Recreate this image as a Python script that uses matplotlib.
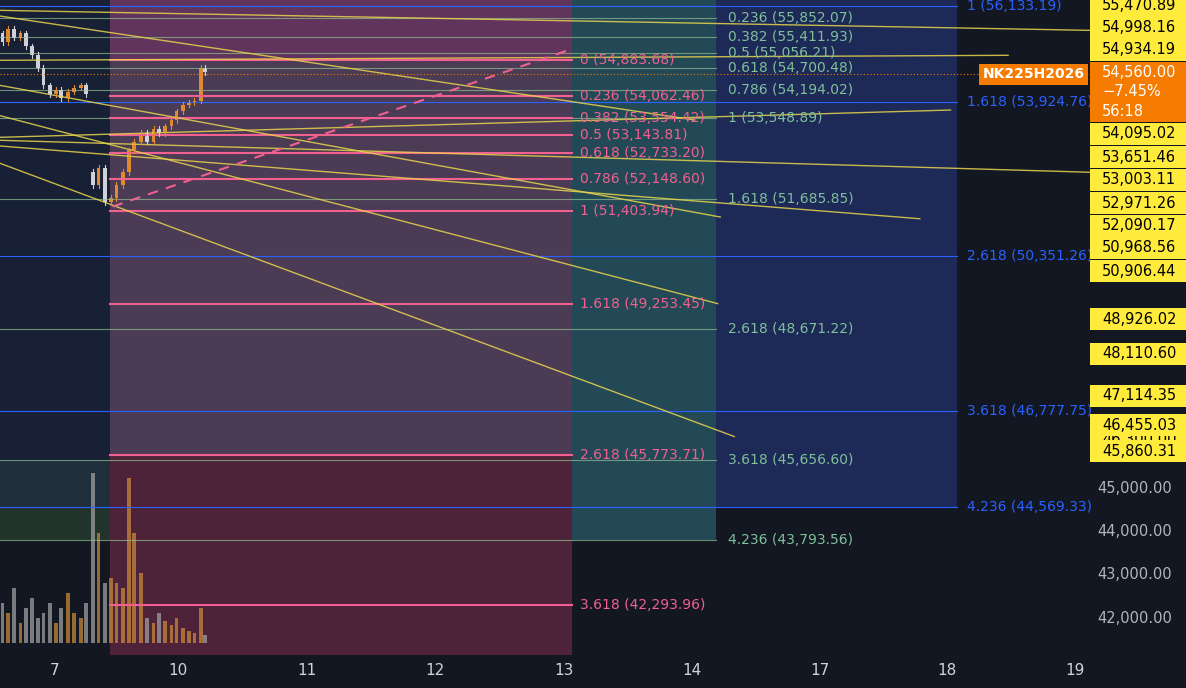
import matplotlib
matplotlib.use("Agg")
import matplotlib.pyplot as plt
import matplotlib.transforms as mtrans
import numpy as np

BG = "#131722"
day_labels = ["7", "10", "11", "12", "13", "14", "17", "18", "19"]
day_pos = [0, 0.96, 1.97, 2.97, 3.98, 4.98, 5.98, 6.97, 7.97]

times = [-0.41,-0.37,-0.32,-0.27,-0.23,-0.18,-0.13,-0.09,-0.04,0.01,0.05,0.10,0.15,0.20,0.24,
         0.30,0.34,0.39,0.44,0.48,0.53,0.58,0.62,0.67,0.72,0.77,0.81,0.86,0.91,0.95,1.00,1.05,1.09,1.14,1.17]
opens = [55500,55300,55600,55400,55500,55200,55000,54700,54300,54100,54200,54000,54150,54250,54300,
         52300,52000,52400,51600,51700,52000,52300,52800,53000,53200,53000,53300,53200,53350,53500,53700,53850,53900,53950,54700]
closes = [55300,55600,55400,55500,55200,55000,54700,54300,54100,54200,54000,54150,54250,54300,54100,
          52000,52400,51600,51700,52000,52300,52800,53000,53200,53000,53300,53200,53350,53500,53700,53850,53900,53950,54700,54600]
volumes = [40,30,55,20,35,45,25,30,40,20,35,50,30,25,40,
           170,110,60,65,60,55,165,110,70,25,20,30,22,18,25,15,12,10,35,8]

pink_ratios = ["0","0.236","0.382","0.5","0.618","0.786","1","1.618","2.618","3.618"]
pink_levels = [54883.68,54062.46,53554.42,53143.81,52733.20,52148.60,51403.94,49253.45,45773.71,42293.96]
green_ratios = ["0.236","0.382","0.5","0.618","0.786","1","1.618","2.618","3.618","4.236"]
green_levels = [55852.07,55411.93,55056.21,54700.48,54194.02,53548.89,51685.85,48671.22,45656.60,43793.56]
blue_ratios = ["1","1.618","2.618","3.618","4.236"]
blue_levels = [56133.19,53924.76,50351.26,46777.75,44569.33]

right_labels = [46300.00,55470.89,54998.16,54934.19,54095.02,53651.46,53003.11,52971.26,52090.17,50968.56,50906.44,
                48926.02,48110.60,47114.35,46455.03,45860.31]
# pixel centres of the stacked price-scale labels (layout only)
label_centres_px = [440,6,28,50,134,157,180,203,226,248,271,319,354,396,425,451]
axis_ticks = [45000,44000,43000,42000]
last_price = 54560.00

trend_lines = [(-0.43,56032,8.09,55570),(-0.43,54878,7.45,54994),(-0.43,53032,8.09,52293),
               (-0.43,52900,6.76,51220),(-0.43,54300,5.20,51260),(-0.43,53600,5.18,49260),
               (-0.43,52500,5.31,46190),(-0.43,53100,7.0,53730),(-0.43,55900,5.0,53500)]

fig = plt.figure(figsize=(11.86, 6.88), dpi=100, facecolor=BG)
ax = fig.add_axes([0, 33/688, 1090/1186, 655/688])
ax.set_facecolor(BG)
x0, x1 = -0.43, 8.09
y0, y1 = 41146, 56271
ax.set_xlim(x0, x1); ax.set_ylim(y0, y1)

ax.fill_between([0.43, 4.04], pink_levels[0], y1, color="#a04c8c", alpha=0.55, lw=0)
ax.fill_between([0.43, 4.04], pink_levels[8], pink_levels[0], color="#7a5a80", alpha=0.55, lw=0)
ax.fill_between([0.43, 4.04], y0, pink_levels[8], color="#8a3050", alpha=0.5, lw=0)
ax.fill_between([4.04, 5.17], green_levels[9], y1, color="#2a5a68", alpha=0.75, lw=0)
ax.fill_between([x0, 0.43], green_levels[9], green_levels[8], color="#3d6a3a", alpha=0.35, lw=0)
ax.fill_between([5.17, 7.05], blue_levels[4], y1, color="#1f2c5e", alpha=0.9, lw=0)
ax.fill_between([x0, 0.43], blue_levels[4], y1, color="#1e2a4a", alpha=0.5, lw=0)

for r, l in zip(blue_ratios, blue_levels):
    ax.plot([x0, 7.05], [l, l], color="#2962ff", lw=0.8)
    ax.text(7.13, l, f"{r} ({l:,.2f})", color="#2962ff", fontsize=10, va="center")
for r, l in zip(green_ratios, green_levels):
    ax.plot([x0, 5.17], [l, l], color="#8fbf8f", lw=0.8, alpha=0.7)
    ax.text(5.26, l, f"{r} ({l:,.2f})", color="#7fbf9a", fontsize=10, va="center")
for r, l in zip(pink_ratios, pink_levels):
    ax.plot([0.43, 4.04], [l, l], color="#f06090", lw=1.5)
    ax.text(4.1, l, f"{r} ({l:,.2f})", color="#f06090", fontsize=10, va="center")

for t0, p0, t1, p1 in trend_lines:
    ax.plot([t0, t1], [p0, p1], color="#e8d44d", lw=1.0, alpha=0.85)
ax.plot([0.45, 4.0], [51500, 55100], color="#f06090", lw=1.5, ls=(0, (5, 4)))
ax.axhline(last_price, color="#f57c00", lw=0.8, ls=(0, (1, 2)))

vt = mtrans.blended_transform_factory(ax.transData, ax.transAxes)
vmax = max(volumes)
for t, v, o, c in zip(times, volumes, opens, closes):
    col = "#c8873a" if c >= o else "#9e9e9e"
    ax.bar(t, v / vmax * 0.26, width=0.03, bottom=0.018, color=col, alpha=0.75, transform=vt)
for t, o, c in zip(times, opens, closes):
    col = "#e08a30" if c >= o else "#d0d0d8"
    hi, lo = max(o, c) + 60, min(o, c) - 60
    ax.plot([t, t], [lo, hi], color=col, lw=0.8)
    ax.bar(t, abs(c - o) or 20, bottom=min(o, c), width=0.03, color=col)

ax.set_xticks(day_pos)
ax.set_xticklabels(day_labels)
ax.set_yticks([])
ax.tick_params(axis="x", colors="#d1d4dc", labelsize=11, length=0, pad=6)
for s in ax.spines.values():
    s.set_visible(False)

H = 688.0
xl = 1090
for p in axis_ticks:
    ax.text(1.0 + 0.007, p, f"{p:,.2f}", transform=mtrans.blended_transform_factory(ax.transAxes, ax.transData),
            color="#b2b5be", fontsize=10.5, va="center", clip_on=False)
for i, (p, c) in enumerate(zip(right_labels, label_centres_px)):
    yb = (H - c - 11) / H
    fig.add_artist(plt.Rectangle((xl / 1186, yb), 96 / 1186, 22 / H, transform=fig.transFigure,
                                 fc="#ffeb3b", ec="none", zorder=10 + 2 * i))
    fig.text((xl + 12) / 1186, (H - c) / H, f"{p:,.2f}", color="black", fontsize=10.5, va="center",
             zorder=11 + 2 * i)
fig.add_artist(plt.Rectangle((xl / 1186, (H - 122) / H), 96 / 1186, 60 / H, transform=fig.transFigure,
                             fc="#f57c00", ec="none", zorder=60))
fig.text((xl + 12) / 1186, (H - 92) / H, f"{last_price:,.2f}\n\u22127.45%\n56:18", color="white",
         fontsize=10.5, va="center", linespacing=1.35, zorder=61)
ax.text(0.995, last_price, "NK225H2026", transform=mtrans.blended_transform_factory(ax.transAxes, ax.transData),
        color="white", fontsize=10, va="center", ha="right", fontweight="bold",
        bbox=dict(boxstyle="square,pad=0.25", fc="#f57c00", ec="none"))

fig.savefig("out.png", dpi=100, facecolor=BG)
